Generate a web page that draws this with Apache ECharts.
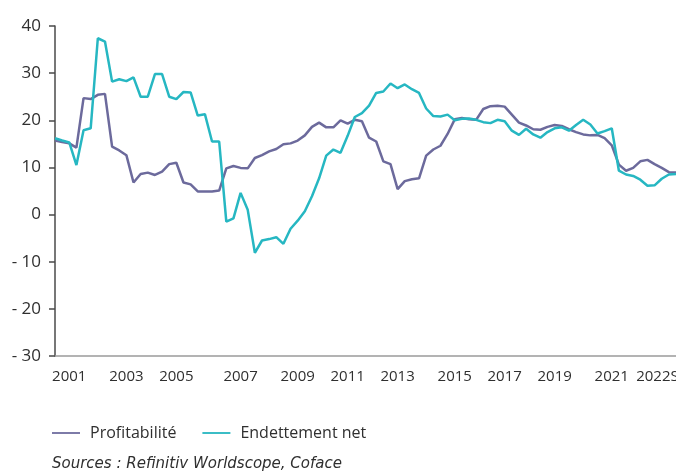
<!DOCTYPE html>
<html>
<head>
<meta charset="utf-8">
<script src="https://cdn.jsdelivr.net/npm/echarts@6/dist/echarts.min.js"></script>
<style>
  html, body { margin: 0; padding: 0; background: #ffffff; overflow: hidden; }
  #chart { width: 676px; height: 475px; }
</style>
</head>
<body>
<div id="chart"></div>
<script>
// Quarterly periods, 2001 T1 to 2022 T4
const years = [2001, 2002, 2003, 2004, 2005, 2006, 2007, 2008, 2009, 2010, 2011,
               2012, 2013, 2014, 2015, 2016, 2017, 2018, 2019, 2020, 2021, 2022];
const quarters = [];
years.forEach(y => { for (let q = 1; q <= 4; q++) quarters.push(y + 'T' + q); });

// Year labels shown under the axis, keyed by the period they sit on
const yearLabels = {
  '2001T3': '2001', '2003T3': '2003', '2005T2': '2005', '2007T3': '2007',
  '2009T3': '2009', '2011T2': '2011', '2013T1': '2013', '2015T1': '2015',
  '2016T4': '2017', '2018T3': '2019', '2020T3': '2021', '2022T2': '2022S1'
};

// Profitabilité (%)
const profitabilite = [
  15.7, 15.4, 15.1, 14.2, 24.7, 24.5, 25.4, 25.6, 14.4, 13.6,
  12.6, 6.8, 8.6, 8.9, 8.4, 9.1, 10.7, 11.0, 6.8, 6.4,
  4.9, 4.9, 4.9, 5.1, 9.8, 10.3, 9.9, 9.8, 12.0, 12.6,
  13.4, 13.9, 14.9, 15.1, 15.7, 16.8, 18.6, 19.5, 18.5, 18.5,
  20.0, 19.3, 20.1, 19.8, 16.3, 15.5, 11.3, 10.7, 5.4, 7.1,
  7.5, 7.7, 12.5, 13.8, 14.6, 17.1, 20.2, 20.5, 20.2, 20.1,
  22.4, 23.0, 23.1, 22.9, 21.2, 19.5, 18.9, 18.1, 18.0, 18.6,
  19.0, 18.8, 18.1, 17.5, 17.0, 16.8, 16.9, 16.2, 14.7, 10.6,
  9.3, 9.9, 11.3, 11.6, 10.7, 9.9, 9.0, 8.9
];

// Endettement net (%)
const endettementNet = [
  16.2, 15.7, 15.3, 10.5, 17.9, 18.3, 37.4, 36.7, 28.2, 28.7,
  28.3, 29.1, 25.0, 25.0, 29.8, 29.8, 25.0, 24.5, 26.0, 25.9,
  21.0, 21.3, 15.5, 15.5, -1.5, -0.8, 4.6, 1.0, -8.1, -5.5,
  -5.2, -4.8, -6.2, -3.0, -1.3, 0.7, 3.9, 7.7, 12.5, 13.8,
  13.1, 16.7, 20.7, 21.5, 23.1, 25.8, 26.1, 27.8, 26.8, 27.6,
  26.6, 25.8, 22.5, 20.9, 20.8, 21.2, 20.0, 20.3, 20.4, 20.1,
  19.6, 19.4, 20.1, 19.8, 17.8, 16.9, 18.2, 17.0, 16.3, 17.5,
  18.3, 18.5, 17.8, 19.0, 20.1, 19.1, 17.2, 17.7, 18.3, 9.3,
  8.5, 8.2, 7.4, 6.1, 6.2, 7.6, 8.5, 8.6
];

const yTicks = { min: -30, max: 40, step: 10 };

const chart = echarts.init(document.getElementById('chart'), null, { renderer: 'canvas' });

const font = 'Open Sans';
const textColor = '#2f2f2f';
const purple = '#6c6a9c';
const teal = '#26b7c2';

chart.setOption({
  animation: false,
  backgroundColor: '#ffffff',
  title: {
    text: 'Sources : Refinitiv Worldscope, Coface',
    left: 52,
    top: 457,
    padding: 0,
    textStyle: {
      fontFamily: 'DejaVu Sans',
      fontStyle: 'italic',
      fontWeight: 'normal',
      fontSize: 15,
      color: textColor
    }
  },
  legend: {
    left: 52,
    top: 425,
    padding: 0,
    icon: 'rect',
    itemWidth: 28,
    itemHeight: 2,
    itemGap: 26,
    textStyle: { fontFamily: font, fontSize: 16, color: textColor, padding: [0, 0, 0, 5] },
    data: [
      { name: 'Profitabilité', itemStyle: { color: '#7d7ba8' } },
      { name: 'Endettement net', itemStyle: { color: '#3bbdc6' } }
    ]
  },
  grid: { left: 55, right: 0, top: 26, bottom: 119, containLabel: false, outerBoundsMode: 'none' },
  xAxis: {
    type: 'category',
    data: quarters,
    boundaryGap: false,
    axisLine: { onZero: false, lineStyle: { color: '#9a9a9a', width: 1.5 } },
    axisTick: { show: false },
    axisLabel: {
      interval: (idx, val) => yearLabels[val] !== undefined,
      formatter: val => yearLabels[val] || '',
      fontFamily: font,
      fontSize: 15,
      color: textColor,
      margin: 13,
      hideOverlap: false
    },
    splitLine: { show: false }
  },
  yAxis: {
    type: 'value',
    min: yTicks.min,
    max: yTicks.max,
    interval: yTicks.step,
    axisLine: { show: true, lineStyle: { color: '#4a4a4a', width: 1.5 } },
    axisTick: { show: true, length: 6, lineStyle: { color: '#4a4a4a', width: 1.5 } },
    axisLabel: {
      fontFamily: font,
      fontSize: 17,
      color: textColor,
      margin: 14,
      formatter: v => (v < 0 ? '- ' + Math.abs(v) : String(v))
    },
    splitLine: { show: false }
  },
  series: [
    {
      name: 'Profitabilité',
      type: 'line',
      data: profitabilite,
      symbol: 'none',
      lineStyle: { color: purple, width: 2.5 },
      itemStyle: { color: purple },
      z: 2
    },
    {
      name: 'Endettement net',
      type: 'line',
      data: endettementNet,
      symbol: 'none',
      lineStyle: { color: teal, width: 2.5 },
      itemStyle: { color: teal },
      z: 3
    }
  ]
});
</script>
</body>
</html>
